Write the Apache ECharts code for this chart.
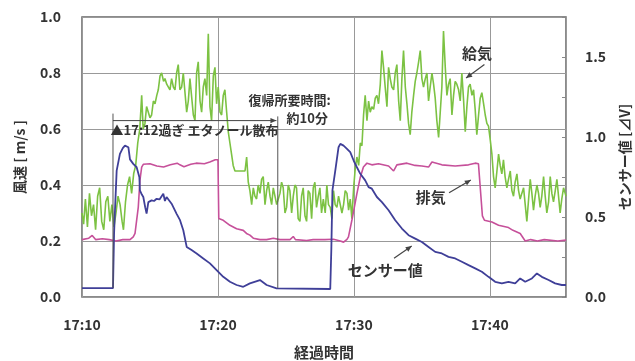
<!DOCTYPE html>
<html><head><meta charset="utf-8">
<script src="https://cdn.jsdelivr.net/npm/echarts@6/dist/echarts.min.js"></script>
<style>html,body{margin:0;padding:0;background:#fff}#c{width:635px;height:361px}</style>
</head><body><div id="c"></div>
<script>
// time axis: minutes after 17:10
const xTickLabels = ['17:10','17:20','17:30','17:40'];
const leftTicks = ['0.0','0.2','0.4','0.6','0.8','1.0'];
const rightTicks = ['0.0','0.5','1.0','1.5'];

// 給気 (supply air velocity, m/s)
const supplyT = [0,0.12,0.25,0.4,0.55,0.7,0.85,1.0,1.15,1.3,1.45,1.6,1.75,1.9,2.05,2.2,2.35,2.5,2.65,2.8,2.95,3.05,3.2,3.35,3.5,3.65,3.8,3.95,4.1,4.25,4.39,4.5,4.63,4.75,4.88,5.0,5.12,5.25,5.37,5.5,5.61,5.74,5.86,6.0,6.1,6.23,6.35,6.47,6.59,6.72,6.84,6.96,7.08,7.2,7.33,7.45,7.57,7.7,7.82,7.94,8.06,8.19,8.31,8.43,8.55,8.68,8.8,8.92,9.04,9.17,9.29,9.41,9.53,9.66,9.78,9.9,10.02,10.15,10.27,10.39,10.51,10.64,10.76,10.88,11.0,11.12,11.25,11.4,11.62,11.8,11.99,12.11,12.23,12.35,12.48,12.6,12.72,12.84,12.96,13.09,13.21,13.33,13.46,13.58,13.7,13.83,13.95,14.07,14.19,14.32,14.44,14.56,14.68,14.8,14.93,15.05,15.17,15.29,15.42,15.54,15.66,15.78,15.9,16.03,16.15,16.27,16.4,16.52,16.64,16.76,16.89,17.01,17.13,17.25,17.38,17.5,17.62,17.75,17.89,18.01,18.13,18.26,18.38,18.5,18.62,18.75,18.87,18.99,19.12,19.24,19.36,19.49,19.61,19.73,19.85,19.98,20.1,20.22,20.35,20.47,20.59,20.71,20.83,20.96,21.08,21.2,21.32,21.45,21.57,21.69,21.81,21.94,22.06,22.18,22.3,22.43,22.55,22.67,22.79,22.92,23.04,23.16,23.29,23.41,23.53,23.65,23.78,23.9,24.02,24.14,24.26,24.39,24.51,24.63,24.76,24.88,25.0,25.12,25.25,25.37,25.49,25.61,25.74,25.86,25.98,26.1,26.23,26.35,26.47,26.59,26.72,26.84,26.96,27.08,27.21,27.33,27.45,27.57,27.7,27.82,27.94,28.07,28.19,28.31,28.43,28.55,28.68,28.8,28.92,29.04,29.17,29.29,29.41,29.54,29.66,29.78,29.9,30.03,30.15,30.27,30.39,30.52,30.64,30.76,30.88,31.0,31.12,31.25,31.37,31.5,31.62,31.74,31.86,31.99,32.11,32.23,32.35,32.48,32.6,32.72,32.85,32.97,33.09,33.21,33.33,33.46,33.58,33.7,33.82,33.95,34.07,34.19,34.32,34.44,34.56,34.68,34.81,34.93,35.05,35.17,35.29,35.42,35.54,35.6];
const supplyV = [0.30,0.26,0.35,0.25,0.37,0.29,0.33,0.24,0.36,0.39,0.27,0.24,0.34,0.36,0.27,0.33,0.25,0.30,0.36,0.33,0.27,0.24,0.34,0.40,0.43,0.37,0.44,0.47,0.55,0.60,0.72,0.60,0.62,0.68,0.68,0.64,0.65,0.70,0.69,0.72,0.74,0.79,0.80,0.77,0.78,0.76,0.76,0.74,0.78,0.75,0.74,0.80,0.83,0.74,0.75,0.80,0.80,0.66,0.70,0.78,0.78,0.65,0.63,0.80,0.84,0.70,0.66,0.75,0.78,0.72,0.94,0.68,0.63,0.79,0.82,0.69,0.75,0.66,0.65,0.72,0.74,0.66,0.59,0.55,0.51,0.47,0.45,0.45,0.45,0.45,0.45,0.50,0.41,0.38,0.33,0.39,0.36,0.35,0.40,0.37,0.42,0.43,0.33,0.38,0.41,0.36,0.33,0.39,0.39,0.33,0.33,0.37,0.41,0.39,0.30,0.32,0.40,0.38,0.30,0.36,0.40,0.39,0.28,0.27,0.36,0.39,0.29,0.27,0.38,0.37,0.28,0.39,0.41,0.32,0.36,0.39,0.30,0.35,0.30,0.40,0.33,0.32,0.28,0.38,0.33,0.32,0.36,0.36,0.30,0.33,0.38,0.37,0.31,0.35,0.28,0.39,0.46,0.50,0.47,0.55,0.54,0.65,0.72,0.63,0.70,0.66,0.68,0.67,0.71,0.72,0.69,0.76,0.88,0.82,0.75,0.68,0.82,0.78,0.75,0.74,0.80,0.83,0.70,0.63,0.78,0.88,0.75,0.69,0.62,0.58,0.66,0.72,0.77,0.80,0.84,0.88,0.78,0.75,0.78,0.80,0.70,0.75,0.80,0.76,0.71,0.63,0.57,0.66,0.75,0.95,0.82,0.72,0.76,0.78,0.65,0.72,0.77,0.76,0.74,0.70,0.80,0.70,0.59,0.68,0.75,0.76,0.72,0.74,0.67,0.58,0.65,0.71,0.73,0.69,0.65,0.62,0.61,0.56,0.51,0.43,0.39,0.45,0.51,0.47,0.44,0.49,0.43,0.39,0.42,0.45,0.38,0.36,0.41,0.44,0.38,0.35,0.37,0.39,0.33,0.27,0.35,0.42,0.37,0.31,0.36,0.40,0.37,0.32,0.36,0.43,0.36,0.30,0.34,0.43,0.37,0.34,0.38,0.42,0.36,0.30,0.35,0.39,0.37,0.36];

// 排気 (exhaust air velocity, m/s)
const exhaustT = [0,0.5,0.75,1.0,1.5,2.0,2.5,3.0,3.53,3.77,3.9,4.14,4.26,4.39,4.51,5.0,5.5,6.0,6.5,7.0,7.2,7.5,8.0,8.4,9.0,9.4,9.8,10.0,10.06,10.39,10.88,11.37,11.86,12.1,12.35,12.6,13.09,13.58,14.07,14.56,15.3,15.54,15.7,16.52,17.0,17.87,18.5,19.0,19.24,19.49,19.6,19.85,20.22,20.47,20.7,20.96,21.32,21.81,22.55,22.92,23.16,23.9,24.5,25.0,25.49,25.74,26.47,27.45,28.43,28.92,29.16,29.45,29.6,30.15,30.64,31.37,31.7,32.23,32.6,33.0,33.5,34.0,35.0,35.6];
const exhaustV = [0.205,0.21,0.22,0.205,0.208,0.205,0.20,0.205,0.205,0.215,0.227,0.321,0.416,0.464,0.474,0.476,0.468,0.464,0.472,0.478,0.472,0.465,0.474,0.478,0.476,0.482,0.49,0.49,0.28,0.274,0.256,0.244,0.238,0.227,0.221,0.21,0.205,0.205,0.21,0.205,0.205,0.216,0.205,0.202,0.205,0.205,0.206,0.20,0.196,0.206,0.215,0.274,0.369,0.428,0.464,0.478,0.472,0.476,0.468,0.45,0.472,0.478,0.47,0.468,0.464,0.482,0.472,0.468,0.472,0.478,0.476,0.29,0.274,0.268,0.256,0.248,0.238,0.227,0.20,0.205,0.20,0.205,0.20,0.203];

// センサー値 (sensor, ⊿V)
const sensorT = [0,2.28,2.36,2.43,2.55,2.79,3.0,3.16,3.41,3.53,3.77,4.02,4.22,4.26,4.4,4.51,4.65,4.75,4.88,5.12,5.3,5.49,5.7,5.98,6.1,6.22,6.35,6.59,6.96,7.21,7.45,7.7,8.06,8.43,8.92,9.41,9.9,10.39,10.88,11.37,11.86,12.35,13.09,13.58,14.31,18.26,18.34,18.42,18.5,18.63,18.87,19.0,19.24,19.49,19.73,19.98,20.22,20.47,20.83,21.08,21.32,21.69,22.06,22.55,23.04,23.53,24.02,24.51,25.0,25.49,25.98,26.47,26.96,27.45,27.94,28.43,28.92,29.41,29.9,30.39,30.88,31.37,31.86,32.23,32.6,33.09,33.46,33.82,34.32,34.8,35.29,35.6];
const sensorV = [0.055,0.055,0.40,0.55,0.79,0.895,0.93,0.946,0.936,0.86,0.832,0.811,0.749,0.666,0.64,0.625,0.56,0.521,0.593,0.604,0.60,0.614,0.61,0.646,0.60,0.625,0.625,0.583,0.52,0.48,0.417,0.313,0.293,0.272,0.241,0.21,0.168,0.126,0.095,0.075,0.064,0.085,0.106,0.075,0.054,0.05,0.30,0.666,0.666,0.79,0.936,0.957,0.946,0.926,0.905,0.853,0.811,0.77,0.729,0.687,0.677,0.625,0.593,0.542,0.48,0.428,0.386,0.365,0.344,0.313,0.282,0.272,0.251,0.241,0.22,0.199,0.179,0.158,0.126,0.095,0.085,0.095,0.085,0.116,0.095,0.116,0.147,0.126,0.106,0.085,0.075,0.075];

const zip = (t, v) => t.map((x, i) => [x, v[i]]);
const TXT = '#333';
const FONT = '"Noto Sans CJK JP", sans-serif';

const chart = echarts.init(document.getElementById('c'), null, {renderer: 'canvas'});
chart.setOption({
  animation: false,
  backgroundColor: '#fff',
  grid: {left: 82, right: 69, top: 17, bottom: 64, outerBoundsMode: 'none', containLabel: false,
    show: true, borderColor: '#666', borderWidth: 1.5, backgroundColor: 'transparent'},
  xAxis: {
    type: 'value', min: 0, max: 35.6, interval: 10,
    name: '経過時間', nameLocation: 'middle', nameGap: 48,
    nameTextStyle: {fontFamily: FONT, fontSize: 15, fontWeight: 'bold', color: TXT},
    axisLine: {show: false}, axisTick: {show: false},
    splitLine: {show: true, lineStyle: {color: '#999', width: 1}},
    axisLabel: {margin: 21, fontFamily: FONT, fontSize: 14, fontWeight: 'bold', color: TXT,
      formatter: v => xTickLabels[Math.round(v / 10)] || ''}
  },
  yAxis: [{
    type: 'value', min: 0, max: 1, interval: 0.2,
    name: '風速 [ m/s ]', nameLocation: 'middle', nameGap: 55, nameRotate: 90,
    nameTextStyle: {fontFamily: FONT, fontSize: 14, fontWeight: 'bold', color: TXT},
    axisLine: {show: false}, axisTick: {show: false},
    splitLine: {show: true, lineStyle: {color: '#999', width: 1}},
    axisLabel: {margin: 21, fontFamily: FONT, fontSize: 14, fontWeight: 'bold', color: TXT,
      formatter: v => leftTicks[Math.round(v / 0.2)] || ''}
  }, {
    type: 'value', min: 0, max: 1.75, interval: 0.25, position: 'right',
    name: 'センサー値 [⊿V]', nameLocation: 'middle', nameGap: 52, nameRotate: 90,
    nameTextStyle: {fontFamily: FONT, fontSize: 14, fontWeight: 'bold', color: TXT},
    axisLine: {show: false},
    axisTick: {show: true, inside: true, length: 4, lineStyle: {color: '#888'}},
    splitLine: {show: false},
    axisLabel: {margin: 19, fontFamily: FONT, fontSize: 14, fontWeight: 'bold', color: TXT,
      formatter: v => { const k = Math.round(v / 0.25); return k % 2 === 0 ? (rightTicks[k / 2] || '') : ''; }}
  }],
  series: [
    {name: '給気', type: 'line', yAxisIndex: 0, data: zip(supplyT, supplyV), showSymbol: false,
      lineStyle: {color: '#7cc243', width: 1.6}, itemStyle: {color: '#7cc243'}, z: 2},
    {name: '排気', type: 'line', yAxisIndex: 0, data: zip(exhaustT, exhaustV), showSymbol: false,
      lineStyle: {color: '#c6509a', width: 1.6}, itemStyle: {color: '#c6509a'}, z: 3},
    {name: 'センサー値', type: 'line', yAxisIndex: 1, data: zip(sensorT, sensorV), showSymbol: false,
      lineStyle: {color: '#3f3f98', width: 1.8}, itemStyle: {color: '#3f3f98'}, z: 4}
  ]
});

// annotations, positioned in data coordinates (minutes, m/s)
const P = (t, v) => chart.convertToPixel({xAxisIndex: 0, yAxisIndex: 0}, [t, v]);
const g = [];
function line(a, b, color, w) {
  const p = P(a[0], a[1]), q = P(b[0], b[1]);
  g.push({type: 'line', shape: {x1: p[0], y1: p[1], x2: q[0], y2: q[1]}, style: {stroke: color, lineWidth: w}, z: 10});
}
function arrow(a, b, color, w, size) {
  const p = P(a[0], a[1]), q = P(b[0], b[1]);
  g.push({type: 'line', shape: {x1: p[0], y1: p[1], x2: q[0], y2: q[1]}, style: {stroke: color, lineWidth: w}, z: 10});
  const ang = Math.atan2(q[1] - p[1], q[0] - p[0]);
  const s = size, hw = size * 0.45;
  const bx = q[0] - s * Math.cos(ang), by = q[1] - s * Math.sin(ang);
  g.push({type: 'polygon', shape: {points: [[q[0], q[1]],
    [bx + hw * Math.sin(ang), by - hw * Math.cos(ang)],
    [bx - hw * Math.sin(ang), by + hw * Math.cos(ang)]]}, style: {fill: color}, z: 10});
}
function text(t, v, str, size, align) {
  const p = P(t, v);
  g.push({type: 'text', x: p[0], y: p[1], style: {text: str, fill: TXT, font: 'bold ' + size + 'px ' + FONT, align: align || 'left', verticalAlign: 'middle'}, z: 11});
}
// brackets and horizontal arrow
line([2.28, 0.655], [2.28, 0.032], '#555', 1);
line([14.4, 0.645], [14.4, 0.032], '#555', 1);
arrow([2.28, 0.63], [14.3, 0.63], '#444', 1, 6);
text(2.1, 0.597, '▲17:12過ぎ エタノール散布', 13, 'left');
text(12.25, 0.703, '復帰所要時間:', 13, 'left');
text(15.05, 0.638, '約10分', 13, 'left');
// series labels
text(29.05, 0.872, '給気', 15, 'center');
arrow([29.6, 0.83], [28.25, 0.782], '#444', 1.2, 6);
text(25.65, 0.356, '排気', 15, 'center');
arrow([27.0, 0.372], [28.6, 0.418], '#444', 1.2, 6);
text(22.3, 0.096, 'センサー値', 15, 'center');
arrow([22.95, 0.138], [24.25, 0.182], '#444', 1.2, 6);
chart.setOption({graphic: g});
</script></body></html>
